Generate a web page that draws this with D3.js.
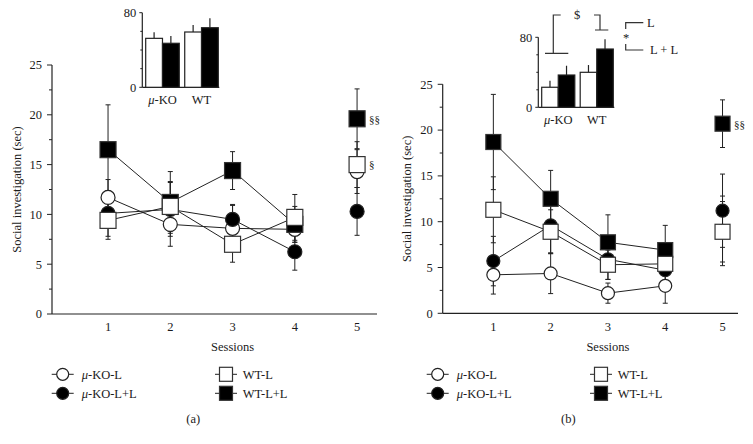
<!DOCTYPE html>
<html>
<head>
<meta charset="utf-8">
<script src="https://cdn.jsdelivr.net/npm/d3@7/dist/d3.min.js"></script>
<style>
  body { margin: 0; background: #fff; }
  text { font-family: "Liberation Serif", "Times New Roman", serif; fill: #1a1a1a; }
</style>
</head>
<body>
<svg id="chart" width="753" height="444"></svg>
<script>
// sessions on the x axis
const sessions = [1, 2, 3, 4, 5];
const yTicks = [0, 5, 10, 15, 20, 25];

// panel (a) means and SEM
const aKoL = [11.7, 9.0, 8.6, 8.5, 14.3];
const aKoLErr = [1.8, 2.2, 2.3, 1.3, 2.2];
const aKoLL = [10.1, 10.5, 9.5, 6.25, 10.3];
const aKoLLErr = [2.3, 2.7, 1.5, 1.85, 2.4];
const aWtL = [9.4, 10.8, 7.0, 9.7, 15.0];
const aWtLErr = [1.9, 2.5, 1.8, 2.3, 2.3];
const aWtLL = [16.5, 11.2, 14.4, 9.0, 19.6];
const aWtLLErr = [4.5, 3.1, 1.9, 1.8, 3.0];

// panel (b) means and SEM
const bKoL = [4.2, 4.35, 2.2, 3.0, 9.0];
const bKoLErr = [2.1, 2.2, 1.1, 1.9, 3.8];
const bKoLL = [5.7, 9.6, 5.9, 4.7, 11.2];
const bKoLLErr = [2.7, 3.0, 2.2, 2.0, 4.0];
const bWtL = [11.3, 8.9, 5.3, 5.4, 8.9];
const bWtLErr = [3.6, 2.4, 1.6, 1.0, 3.3];
const bWtLL = [18.7, 12.5, 7.75, 6.9, 20.7];
const bWtLLErr = [5.2, 3.1, 3.0, 2.7, 2.6];

// insets (total over sessions)
const insetGroups = ["μ-KO", "WT"];
const insetTicks = [0, 80];
const aInsetL = [52.5, 59.3];
const aInsetLErr = [6.5, 7.5];
const aInsetLL = [47.2, 63.9];
const aInsetLLErr = [7.8, 10.1];
const bInsetL = [22.9, 40.0];
const bInsetLErr = [7.5, 8.3];
const bInsetLL = [36.9, 66.6];
const bInsetLLErr = [10.6, 11.1];

const svg = d3.select("#chart");

function muText(sel, str, size) {
  // italic μ followed by the rest
  sel.attr("font-size", size);
  if (str.startsWith("μ")) {
    sel.append("tspan").attr("font-style", "italic").text("μ");
    sel.append("tspan").text(str.slice(1));
  } else {
    sel.text(str);
  }
}

function drawPanel(p) {
  const g = svg.append("g");
  const x = d3.scaleLinear().domain(p.xDomain).range([p.left, p.right]);
  const y = d3.scaleLinear().domain([0, 25]).range([p.bottom, p.top]);

  // axes lines
  g.append("line").attr("x1", x(p.xDomain[0])).attr("x2", x(p.xDomain[0]))
    .attr("y1", y(0)).attr("y2", y(25)).attr("stroke", "#222").attr("stroke-width", 1.2);
  g.append("line").attr("x1", x(p.xDomain[0])).attr("x2", x(p.xDomain[1]))
    .attr("y1", y(0)).attr("y2", y(0)).attr("stroke", "#222").attr("stroke-width", 1.2);

  const minor = d3.range(0, 25.01, 2.5);
  g.selectAll(".ytick").data(minor).enter().append("line")
    .attr("x1", d => x(p.xDomain[0]) - (d % 5 === 0 ? 5 : 3))
    .attr("x2", x(p.xDomain[0]))
    .attr("y1", d => y(d)).attr("y2", d => y(d))
    .attr("stroke", "#222").attr("stroke-width", 1);
  g.selectAll(".ylab").data(yTicks).enter().append("text")
    .attr("x", x(p.xDomain[0]) - 10).attr("y", d => y(d)).attr("dy", "0.35em")
    .attr("text-anchor", "end").attr("font-size", 12.5).text(d => d);
  g.selectAll(".xlab").data(sessions).enter().append("text")
    .attr("x", d => x(d)).attr("y", y(0) + 13).attr("dy", "0.35em")
    .attr("text-anchor", "middle").attr("font-size", 12.5).text(d => d);

  g.append("text").attr("x", x(3)).attr("y", 347).attr("dy", "0.35em")
    .attr("text-anchor", "middle").attr("font-size", 12.5).text("Sessions");
  g.append("text")
    .attr("transform", `translate(${p.ylabX},${(y(0) + y(25)) / 2}) rotate(-90)`)
    .attr("text-anchor", "middle").attr("dy", "0.35em").attr("font-size", 12.5)
    .text("Social investigation (sec)");

  // error bars
  p.series.forEach(s => {
    s.values.forEach((v, i) => {
      const cx = x(sessions[i]);
      g.append("line").attr("x1", cx).attr("x2", cx)
        .attr("y1", y(v - s.errs[i])).attr("y2", y(v + s.errs[i]))
        .attr("stroke", "#222").attr("stroke-width", 1);
      [v - s.errs[i], v + s.errs[i]].forEach(e => {
        g.append("line").attr("x1", cx - 2.5).attr("x2", cx + 2.5)
          .attr("y1", y(e)).attr("y2", y(e)).attr("stroke", "#222").attr("stroke-width", 1);
      });
    });
  });

  // connecting lines (sessions 1-4)
  const line = d3.line().x((d, i) => x(sessions[i])).y(d => y(d));
  p.series.forEach(s => {
    g.append("path").attr("d", line(s.values.slice(0, 4)))
      .attr("fill", "none").attr("stroke", "#222").attr("stroke-width", 1);
  });

  // markers
  p.series.forEach(s => {
    s.values.forEach((v, i) => {
      const cx = x(sessions[i]), cy = y(v);
      if (s.shape === "circle") {
        g.append("circle").attr("cx", cx).attr("cy", cy).attr("r", p.r)
          .attr("fill", s.fill).attr("stroke", "#222").attr("stroke-width", 1.2);
      } else {
        g.append("rect").attr("x", cx - p.sq / 2).attr("y", cy - p.sq / 2)
          .attr("width", p.sq).attr("height", p.sq)
          .attr("fill", s.fill).attr("stroke", "#333").attr("stroke-width", 1.2);
      }
    });
  });

  // significance marks at session 5
  p.marks.forEach(m => {
    const s = p.series[m.series];
    g.append("text").attr("x", x(5) + p.sq / 2 + 4).attr("y", y(s.values[4]))
      .attr("dy", "0.35em").attr("font-size", 11).text(m.text);
  });

  // legend
  const lg = svg.append("g").attr("transform", `translate(${p.legendX},0)`);
  const rows = [374.3, 393.3];
  const legendItems = [
    { s: p.series[0], col: 0, row: 0 },
    { s: p.series[1], col: 0, row: 1 },
    { s: p.series[3], col: 1, row: 0 },
    { s: p.series[2], col: 1, row: 1 }
  ];
  const cols = [{ c: 62.7, half: 11, tx: 81.7 }, { c: 226, half: 11, tx: 242.7 }];
  legendItems.forEach(it => {
    const c = cols[it.col], yy = rows[it.row];
    lg.append("line").attr("x1", c.c - c.half).attr("x2", c.c + c.half)
      .attr("y1", yy).attr("y2", yy).attr("stroke", "#222").attr("stroke-width", 1);
    if (it.s.shape === "circle") {
      lg.append("circle").attr("cx", c.c).attr("cy", yy).attr("r", 6)
        .attr("fill", it.s.fill).attr("stroke", "#222").attr("stroke-width", 1.2);
    } else {
      lg.append("rect").attr("x", c.c - 6.5).attr("y", yy - 7).attr("width", 13).attr("height", 14)
        .attr("fill", it.s.fill).attr("stroke", "#333").attr("stroke-width", 1.2);
    }
    lg.append("text").attr("x", c.tx).attr("y", yy).attr("dy", "0.35em")
      .call(muText, it.s.name, 12.5);
  });
  lg.append("text").attr("x", 193.3).attr("y", 418.3).attr("dy", "0.35em")
    .attr("text-anchor", "middle").attr("font-size", 12.5).text(p.tag);
}

function drawInset(p) {
  const g = svg.append("g");
  const y = d3.scaleLinear().domain([0, 80]).range([p.bottom, p.top]);
  const x0 = d3.scaleBand().domain(insetGroups).range([p.barLeft, p.barRight]).paddingInner(0.14);
  const x1 = d3.scaleBand().domain(["L", "LL"]).range([0, x0.bandwidth()]);

  g.append("line").attr("x1", p.axisX).attr("x2", p.axisX).attr("y1", y(0)).attr("y2", y(80))
    .attr("stroke", "#222").attr("stroke-width", 1.2);
  g.append("line").attr("x1", p.axisX).attr("x2", p.barRight + 1).attr("y1", y(0)).attr("y2", y(0))
    .attr("stroke", "#222").attr("stroke-width", 1.2);
  g.selectAll(".it").data([0, 20, 40, 60, 80]).enter().append("line")
    .attr("x1", d => p.axisX - (d % 80 === 0 ? 3 : 2)).attr("x2", p.axisX)
    .attr("y1", d => y(d)).attr("y2", d => y(d)).attr("stroke", "#222");
  g.selectAll(".il").data(insetTicks).enter().append("text")
    .attr("x", p.axisX - 6).attr("y", d => y(d)).attr("dy", "0.35em")
    .attr("text-anchor", "end").attr("font-size", 12.5).text(d => d);

  const bars = [];
  insetGroups.forEach((grp, i) => {
    bars.push({ grp, key: "L", v: p.L[i], e: p.LErr[i], fill: "#fff" });
    bars.push({ grp, key: "LL", v: p.LL[i], e: p.LLErr[i], fill: "#000" });
  });
  bars.forEach(b => {
    const bx = x0(b.grp) + x1(b.key);
    g.append("line").attr("x1", bx + x1.bandwidth() / 2).attr("x2", bx + x1.bandwidth() / 2)
      .attr("y1", y(b.v)).attr("y2", y(b.v + b.e)).attr("stroke", "#222").attr("stroke-width", 1.2);
    g.append("rect").attr("x", bx).attr("y", y(b.v)).attr("width", x1.bandwidth())
      .attr("height", y(0) - y(b.v)).attr("fill", b.fill).attr("stroke", "#222").attr("stroke-width", 1.2);
  });
  insetGroups.forEach(grp => {
    g.append("text").attr("x", x0(grp) + x0.bandwidth() / 2).attr("y", y(0) + 12).attr("dy", "0.35em")
      .attr("text-anchor", "middle").call(muText, grp, 12.5);
  });
}

const seriesA = [
  { name: "μ-KO-L", values: aKoL, errs: aKoLErr, shape: "circle", fill: "#fff" },
  { name: "μ-KO-L+L", values: aKoLL, errs: aKoLLErr, shape: "circle", fill: "#000" },
  { name: "WT-L+L", values: aWtLL, errs: aWtLLErr, shape: "square", fill: "#000" },
  { name: "WT-L", values: aWtL, errs: aWtLErr, shape: "square", fill: "#fff" }
];
const seriesB = [
  { name: "μ-KO-L", values: bKoL, errs: bKoLErr, shape: "circle", fill: "#fff" },
  { name: "μ-KO-L+L", values: bKoLL, errs: bKoLLErr, shape: "circle", fill: "#000" },
  { name: "WT-L+L", values: bWtLL, errs: bWtLLErr, shape: "square", fill: "#000" },
  { name: "WT-L", values: bWtL, errs: bWtLErr, shape: "square", fill: "#fff" }
];

drawPanel({
  xDomain: [0.1, 5.32], left: 52, right: 377, top: 65, bottom: 314,
  ylabX: 17, r: 7, sq: 16, series: seriesA, tag: "(a)", legendX: 0,
  marks: [{ series: 2, text: "§§" }, { series: 3, text: "§" }]
});
drawPanel({
  xDomain: [0.116, 5.27], left: 442.7, right: 738, top: 84.3, bottom: 313.3,
  ylabX: 407, r: 6.5, sq: 15, series: seriesB, tag: "(b)", legendX: 375,
  marks: [{ series: 2, text: "§§" }]
});

drawInset({ axisX: 142.3, top: 12.7, bottom: 87.3, barLeft: 145.7, barRight: 218.3,
  L: aInsetL, LErr: aInsetLErr, LL: aInsetLL, LLErr: aInsetLLErr });
drawInset({ axisX: 538.3, top: 37.3, bottom: 107.3, barLeft: 541.7, barRight: 613.3,
  L: bInsetL, LErr: bInsetLErr, LL: bInsetLL, LLErr: bInsetLLErr });

// significance brackets on inset (b)
const ann = svg.append("g").attr("fill", "none").attr("stroke", "#333").attr("stroke-width", 1.2);
ann.append("path").attr("d", "M560.7,15 H553.3 V53.3 M545,53.3 H568.3");
ann.append("path").attr("d", "M594,15 H600 V30 M595,30 H608.3");
ann.append("path").attr("d", "M643.3,22.7 H625.7 V29 M625.7,44 V50 H643.3");
svg.append("text").attr("x", 577).attr("y", 15).attr("dy", "0.35em").attr("text-anchor", "middle")
  .attr("font-size", 12.5).text("$");
svg.append("text").attr("x", 626).attr("y", 38).attr("dy", "0.35em").attr("text-anchor", "middle")
  .attr("font-size", 12.5).text("*");
svg.append("text").attr("x", 647).attr("y", 22.7).attr("dy", "0.35em").attr("font-size", 12.5).text("L");
svg.append("text").attr("x", 650).attr("y", 50).attr("dy", "0.35em").attr("font-size", 12.5).text("L + L");
</script>
</body>
</html>
